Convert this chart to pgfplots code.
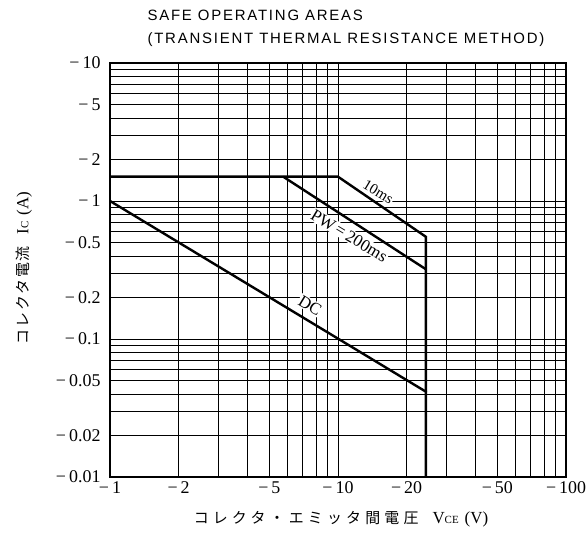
\documentclass[border=0pt]{standalone}
\usepackage{fontspec}
\usepackage{pgfplots}
\pgfplotsset{compat=1.18}
\setmainfont{Liberation Serif}
\newfontfamily\titlefont[LetterSpace=12]{Liberation Sans}
\newfontfamily\jpx[LetterSpace=28]{Noto Sans CJK JP}
\newfontfamily\jpy[LetterSpace=12]{Noto Sans CJK JP}
\newcommand{\mn}{−\kern3bp}
\begin{document}
\begin{tikzpicture}[x=1bp,y=1bp]
\useasboundingbox (0,0) rectangle (588,538);
\begin{axis}[
  at={(110bp,61bp)}, anchor=south west,
  scale only axis, width=456bp, height=414bp,
  xmode=log, ymode=log,
  xmin=1, xmax=100, ymin=0.01, ymax=10,
  xtick={1,2,5,10,20,50,100},
  xticklabels={\mn 1,\mn 2,\mn 5,\mn 10,\mn 20,\mn 50,\mn 100},
  ytick={0.01,0.02,0.05,0.1,0.2,0.5,1,2,5,10},
  yticklabels={\mn 0.01,\mn 0.02,\mn 0.05,\mn 0.1,\mn 0.2,\mn 0.5,\mn 1,\mn 2,\mn 5,\mn 10},
  minor xtick={3,4,6,7,8,9,30,40,60,70,80,90},
  minor ytick={0.03,0.04,0.06,0.07,0.08,0.09,0.3,0.4,0.6,0.7,0.8,0.9,3,4,6,7,8,9},
  grid=both,
  grid style={black, line width=0.6bp},
  minor grid style={black, line width=0.6bp},
  major tick length=0pt, minor tick length=0pt,
  axis line style={line width=1.8bp},
  tick label style={font=\fontsize{18}{18}\selectfont},
  yticklabel style={xshift=-6bp},
  xticklabel style={yshift=-1bp},
  clip=false,
]
\node[rotate=-31, fill=white, inner sep=1bp, font=\fontsize{15}{15}\selectfont] at (axis cs:15.0,1.17) {10ms};
\node[rotate=-31, fill=white, inner sep=1bp, font=\fontsize{17}{17}\selectfont] at (axis cs:11.2,0.56) {PW\,=\,200ms};
\node[rotate=-31, fill=white, inner sep=1bp, font=\fontsize{17}{17}\selectfont] at (axis cs:7.54,0.175) {DC};
\addplot[black, line width=2.4bp] coordinates {(1,1.0) (24.3,0.0415) (24.3,0.01)};
\addplot[black, line width=2.4bp] coordinates {(1,1.5) (10,1.5) (24.3,0.55) (24.3,0.0415)};
\addplot[black, line width=2.4bp] coordinates {(5.75,1.5) (24.3,0.32)};
\end{axis}
\node[anchor=west, font=\titlefont\fontsize{15}{15}\selectfont] at (144,523) {SAFE OPERATING AREAS};
\node[anchor=west, font=\titlefont\fontsize{15}{15}\selectfont] at (144,498) {(TRANSIENT THERMAL RESISTANCE METHOD)};
\node[font=\fontsize{17}{17}\selectfont] at (341,19) {{\fontsize{15}{15}\jpx コレクタ・エミッタ間電圧}\hspace{14bp}V{\fontsize{11}{11}\selectfont CE}\hspace{6bp}(V)};
\node[rotate=90, font=\fontsize{17}{17}\selectfont] at (24,270) {{\fontsize{15}{15}\jpy コレクタ電流}\hspace{12bp}I{\fontsize{11}{11}\selectfont C}\hspace{6bp}(A)};
\end{tikzpicture}
\end{document}
